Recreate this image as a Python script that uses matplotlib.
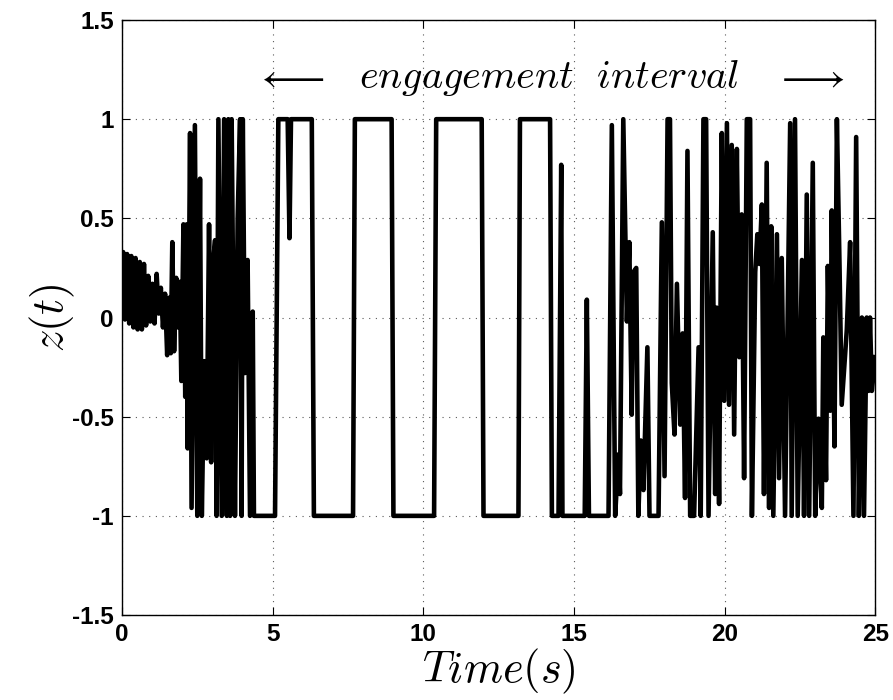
import numpy as np
import matplotlib
matplotlib.use("Agg")
import matplotlib.pyplot as plt

plt.rcParams['mathtext.fontset'] = 'cm'

# start-up transient (0 - 5 s)
t_start = [0.00, 0.04, 0.10, 0.17, 0.24, 0.31, 0.38, 0.45, 0.52, 0.59, 0.66, 0.73,
           0.80, 0.87, 0.94, 1.01, 1.08, 1.15, 1.22, 1.29, 1.36, 1.43, 1.50, 1.57,
           1.62, 1.67, 1.73, 1.80, 1.86, 1.92, 1.97, 2.04, 2.10, 2.15, 2.18, 2.26,
           2.31, 2.42, 2.50, 2.59, 2.65, 2.73, 2.81, 2.89, 2.96, 3.01, 3.09, 3.14,
           3.20, 3.31, 3.39, 3.48, 3.53, 3.59, 3.64, 3.70, 3.75, 3.84, 3.92, 3.97,
           4.01, 4.08, 4.17, 4.25, 4.34, 4.38]
z_start = [0.05, 0.33, -0.01, 0.32, -0.03, 0.31, -0.05, 0.30, -0.06, 0.28, -0.06, 0.27,
           -0.04, 0.21, -0.02, 0.17, -0.03, 0.22, 0.02, 0.15, -0.05, 0.12, -0.19, 0.10,
           -0.18, 0.38, -0.17, 0.20, -0.05, 0.18, -0.32, 0.47, -0.40, 0.47, -0.66, 0.93,
           -0.96, 0.97, -1.00, 0.70, -1.00, -0.22, -0.71, 0.47, -0.73, 0.25, 0.39, -1.00,
           1.00, -1.00, 1.00, -1.00, 1.00, -1.00, 1.00, -0.05, -1.00, 0.50, 1.00, -1.00,
           1.00, -0.28, 0.29, -1.00, 0.03, -1.00]

# engagement: switching between the two saturation levels
t_mid = [5.08, 5.19, 5.50, 5.56, 5.61, 6.30, 6.37, 7.67, 7.73, 8.95, 9.01, 10.36,
         10.43, 11.94, 12.00, 13.16, 13.21, 14.21, 14.27, 14.49, 14.58, 14.62, 15.36,
         15.43, 15.50]
z_mid = [-1.00, 1.00, 1.00, 0.40, 1.00, 1.00, -1.00, -1.00, 1.00, 1.00, -1.00, -1.00,
         1.00, 1.00, -1.00, -1.00, 1.00, 1.00, -1.00, -1.00, 0.77, -1.00, -1.00,
         0.09, -1.00]

# after engagement (16 - 25 s)
t_end = [16.15, 16.26, 16.37, 16.48, 16.53, 16.64, 16.76, 16.84, 16.92, 16.98, 17.07,
         17.14, 17.22, 17.31, 17.44, 17.51, 17.81, 17.92, 18.01, 18.11, 18.19, 18.25,
         18.34, 18.42, 18.53, 18.61, 18.69, 18.77, 18.86, 18.99, 19.14, 19.21, 19.30,
         19.39, 19.47, 19.61, 19.69, 19.74, 19.82, 19.91, 19.99, 20.08, 20.15, 20.24,
         20.32, 20.41, 20.49, 20.57, 20.65, 20.74, 20.85, 20.91, 21.02, 21.09, 21.16,
         21.24, 21.31, 21.40, 21.48, 21.55, 21.62, 21.74, 21.81, 21.90, 22.01, 22.18,
         22.23, 22.34, 22.43, 22.57, 22.64, 22.73, 22.81, 22.93, 23.01, 23.12, 23.23,
         23.28, 23.37, 23.43, 23.51, 23.56, 23.65, 23.73, 23.82, 23.89, 24.06, 24.17,
         24.28, 24.37, 24.46, 24.56, 24.63, 24.72, 24.78, 24.83, 24.89, 25.00]
z_end = [-1.00, 0.97, -1.00, -0.69, -0.89, 1.00, -0.02, 0.38, -0.49, 0.23, 0.25,
         -1.00, -0.62, -0.87, -0.15, -1.00, -1.00, 0.48, -0.80, 1.00, 1.00, -0.33,
         -0.59, 0.17, -0.54, -0.08, -0.91, 0.84, -1.00, -1.00, -0.15, -1.00, 1.00,
         1.00, -1.00, 0.43, -0.89, 0.05, -0.94, 0.93, -0.42, 0.98, -0.44, 0.87,
         -0.59, 0.85, -0.20, 0.52, -0.81, 1.00, 1.00, -1.00, 0.23, 0.42, 0.27,
         0.57, -0.89, 0.78, -0.96, 0.46, -1.00, 0.42, -0.81, 0.30, -1.00, 0.98,
         -1.00, 1.00, -1.00, 0.29, -1.00, 0.62, -1.00, 0.78, -1.00, -0.51, -0.96,
         -0.10, -0.82, 0.26, -0.47, 0.54, -0.65, 1.00, 0.24, -0.44, -0.06, 0.38,
         -1.00, 0.91, -1.00, 0.00, -1.00, 0.00, -0.37, 0.00, -0.37, -0.20]

t = np.concatenate([t_start, t_mid, t_end])
z = np.concatenate([z_start, z_mid, z_end])

fig = plt.figure(figsize=(8.93, 7.0), dpi=100)
ax = fig.add_axes([0.1366, 0.1214, 0.8434, 0.85])

ax.plot(t, z, color='k', linewidth=3.3)

ax.set_xlim(0, 25)
ax.set_ylim(-1.5, 1.5)
ax.set_xticks([0, 5, 10, 15, 20, 25])
ax.set_yticks([-1.5, -1, -0.5, 0, 0.5, 1, 1.5])
ax.set_yticklabels(['-1.5', '-1', '-0.5', '0', '0.5', '1', '1.5'])
ax.grid(True, linestyle=(0, (1, 5)), color='0.35', linewidth=0.8)
ax.tick_params(direction='in', top=True, right=True, length=6, width=0.8,
               labelsize=17.5, pad=6)
for lbl in ax.get_xticklabels() + ax.get_yticklabels():
    lbl.set_fontfamily('Liberation Sans')
    lbl.set_fontweight('bold')
for sp in ax.spines.values():
    sp.set_linewidth(1.0)

ax.set_xlabel(r'$Time(s)$', fontsize=32, labelpad=0)
ax.set_ylabel(r'$z(t)$', fontsize=32, labelpad=-4)

ax.text(5.54, 1.21, r'$\longleftarrow$', fontsize=29, ha='center', va='center')
ax.text(14.18, 1.21, r'$engagement\ \ interval$', fontsize=29, ha='center', va='center')
ax.text(22.81, 1.21, r'$\longrightarrow$', fontsize=29, ha='center', va='center')

fig.savefig('out.png', dpi=100)
